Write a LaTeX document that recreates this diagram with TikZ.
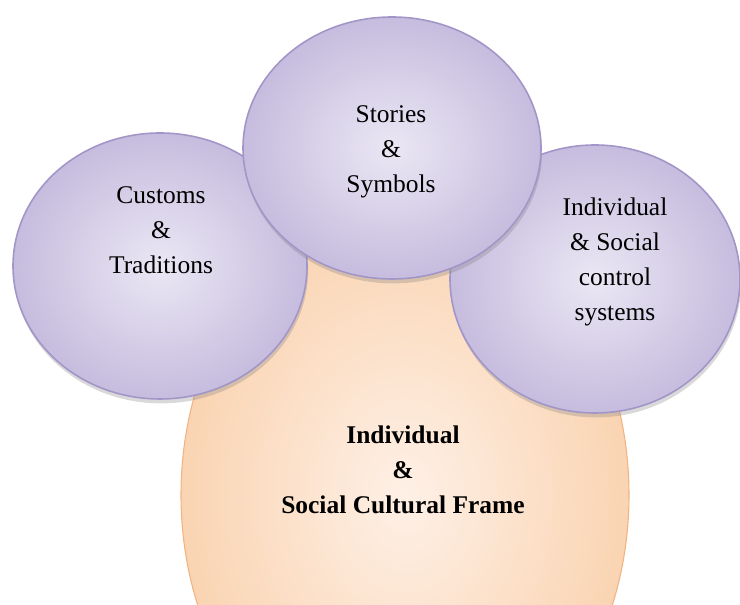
\documentclass[tikz,border=0pt]{standalone}
\usepackage{fontspec}
\setmainfont{Liberation Serif}
\usetikzlibrary{shapes.geometric,shadows}

\definecolor{lavlight}{HTML}{EBE7F4}
\definecolor{lavdark}{HTML}{C6BCDE}
\definecolor{lavedge}{HTML}{A296C8}
\definecolor{peachlight}{HTML}{FEF0E6}
\definecolor{peachdark}{HTML}{FAD4B2}
\definecolor{peachedge}{HTML}{F0B483}

\begin{document}
\begin{tikzpicture}[
		bubble/.style={ellipse, draw=lavedge, line width=0.9pt, shading=radial,
			inner color=lavlight, outer color=lavdark,
			drop shadow={shadow xshift=0.6pt, shadow yshift=-2.5pt, opacity=0.3}},
		framebubble/.style={ellipse, draw=peachedge, line width=0.6pt, shading=radial,
			inner color=peachlight, outer color=peachdark},
		bubbletext/.style={align=center, font=\fontsize{14.5}{20}\selectfont}
	]
		\useasboundingbox (0,0) rectangle (14.8,12.1);
		\clip (0,0) rectangle (14.8,12.1);

		% Draw the frame behind everything
		\node[framebubble, minimum width=8.96cm, minimum height=11.6cm] (frame) at (8.1,2.2) {};

		% Draw the three bubbles on top of the frame
		\node[bubble, minimum width=5.88cm, minimum height=5.32cm] (customs) at (3.2,6.78) {};
		\node[bubble, minimum width=5.8cm, minimum height=5.36cm] (control) at (11.9,6.52) {};
		\node[bubble, minimum width=5.96cm, minimum height=5.24cm] (stories) at (7.84,9.14) {};

		% Texts of the bubbles
		\node[bubbletext] (customstext) at (3.22,7.5) {Customs\\\&\\Traditions};
		\node[bubbletext] (storiestext) at (7.82,9.06) {Stories\\\&\\Symbols};
		\node[bubbletext] (controltext) at (12.3,6.86) {Individual\\\& Social\\control\\systems};
		\node[bubbletext, font=\bfseries\fontsize{14.5}{20}\selectfont] (frametext) at (8.06,2.7) {Individual\\\&\\Social Cultural Frame};

	\end{tikzpicture}
\end{document}
